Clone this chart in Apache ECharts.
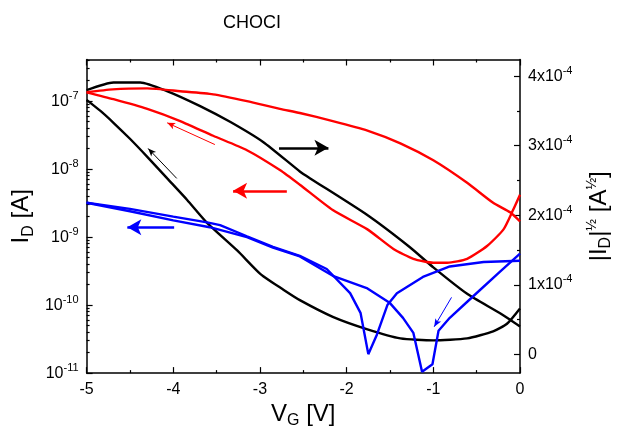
<!DOCTYPE html>
<html>
<head>
<meta charset="utf-8">
<script src="https://cdn.jsdelivr.net/npm/echarts@6/dist/echarts.min.js"></script>
<style>
html,body{margin:0;padding:0;background:#fff;}
#chart{width:624px;height:434px;}
</style>
</head>
<body>
<div id="chart"></div>
<script>
// ---- data (V_G in V, I_D in A, |I_D|^1/2 in A^1/2) ----
var titleText = 'CHOCI';
var xTicks = [-5, -4, -3, -2, -1, 0];
var leftTicks = [1e-11, 1e-10, 1e-9, 1e-8, 1e-7];
var rightTicks = [0, 1e-4, 2e-4, 3e-4, 4e-4];

// black: |I_D|^1/2 (right axis)
var blackAV = [-5.00, -4.69, -4.38, -4.08, -3.69, -3.34, -2.96, -2.54, -2.42, -1.77, -1.27, -1.00, -0.61, -0.23, 0];
var blackAS = [3.80e-4, 3.91e-4, 3.91e-4, 3.79e-4, 3.57e-4, 3.34e-4, 3.05e-4, 2.63e-4, 2.53e-4, 2.01e-4, 1.54e-4, 1.25e-4, 0.87e-4, 0.59e-4, 0.40e-4];
var blackBV = [-5.00, -4.84, -4.69, -4.50, -4.30, -4.07, -3.84, -3.61, -3.26, -2.99, -2.73, -2.54, -2.16, -1.76, -1.38, -1.00, -0.61, -0.31, -0.15, 0];
var blackBS = [3.66e-4, 3.50e-4, 3.33e-4, 3.10e-4, 2.84e-4, 2.53e-4, 2.22e-4, 1.89e-4, 1.49e-4, 1.15e-4, 0.93e-4, 0.78e-4, 0.54e-4, 0.36e-4, 0.23e-4, 0.20e-4, 0.23e-4, 0.33e-4, 0.44e-4, 0.66e-4];

// red: I_D (left axis, log)
var redAV = [-5.00, -4.70, -4.30, -3.92, -3.54, -3.15, -2.77, -2.54, -2.16, -1.76, -1.38, -1.00, -0.61, -0.31, -0.11, 0];
var redAI = [1.35e-7, 1.49e-7, 1.54e-7, 1.40e-7, 1.26e-7, 1.0e-7, 7.7e-8, 6.7e-8, 5.1e-8, 3.7e-8, 2.4e-8, 1.35e-8, 6.3e-9, 3.2e-9, 2.3e-9, 1.7e-9];
var redBV = [-5.00, -4.69, -4.30, -3.92, -3.54, -3.15, -2.77, -2.54, -2.16, -1.76, -1.46, -1.23, -1.00, -0.84, -0.61, -0.38, -0.19, -0.08, 0];
var redBI = [1.35e-7, 1.07e-7, 7.7e-8, 5.1e-8, 3.1e-8, 1.9e-8, 9.7e-9, 5.9e-9, 2.5e-9, 1.3e-9, 6.7e-10, 4.8e-10, 4.2e-10, 4.2e-10, 4.8e-10, 7.4e-10, 1.3e-9, 2.5e-9, 4.2e-9];

// blue: I_D (left axis, log)
var blueAV = [-5.00, -4.50, -4.00, -3.61, -3.46, -3.15, -2.85, -2.54, -2.23, -1.96, -1.84, -1.75, -1.65, -1.53, -1.42, -1.12, -0.81, -0.42, 0];
var blueAI = [3.2e-9, 2.6e-9, 2.0e-9, 1.65e-9, 1.5e-9, 1.03e-9, 7.2e-10, 5.3e-10, 3.4e-10, 1.5e-10, 7.7e-11, 1.9e-11, 3.7e-11, 1.0e-10, 1.5e-10, 2.6e-10, 3.7e-10, 4.3e-10, 4.5e-10];
var blueBV = [-5.00, -4.50, -4.00, -3.58, -3.15, -2.85, -2.54, -2.16, -1.76, -1.50, -1.35, -1.23, -1.13, -1.01, -0.94, -0.81, -0.54, -0.23, 0];
var blueBI = [3.2e-9, 2.4e-9, 1.76e-9, 1.40e-9, 1.0e-9, 7.0e-10, 5.2e-10, 2.7e-10, 1.76e-10, 1.07e-10, 6.5e-11, 3.9e-11, 1.05e-11, 1.35e-11, 4.2e-11, 6.5e-11, 1.35e-10, 3.1e-10, 5.7e-10];

// annotation arrows [x1, y1, x2, y2] in data units
var arrowBlackThick = [-2.78, 2.97e-4, -2.21, 2.97e-4];
var arrowBlackThin = [-3.96, 2.53e-4, -4.29, 2.96e-4];
var arrowRedThick = [-2.69, 4.8e-9, -3.31, 4.8e-9];
var arrowRedThin = [-3.52, 2.3e-8, -4.07, 4.8e-8];
var arrowBlueThick = [-3.99, 1.4e-9, -4.53, 1.4e-9];
var arrowBlueThin = [-0.79, 1.3e-10, -0.99, 4.8e-11];

function zip(a, b) { return a.map(function (v, i) { return [v, b[i]]; }); }
function logMinor() {
  var out = [];
  for (var e = -11; e <= -7; e++) {
    for (var k = 2; k <= 9; k++) {
      var v = k * Math.pow(10, e);
      if (v <= 4.1e-7) out.push(v);
    }
  }
  return out;
}
function arrowLine(a, w, size, color) {
  return {
    silent: true, animation: false,
    symbol: ['none', 'arrow'], symbolSize: size,
    label: { show: false },
    emphasis: { disabled: true },
    lineStyle: { type: 'solid', width: w, color: color },
    itemStyle: { color: color },
    data: [[{ coord: [a[0], a[1]] }, { coord: [a[2], a[3]] }]]
  };
}

var FONT = 'Liberation Sans, Arial, sans-serif';
var LEFT_MIN = 1e-11, LEFT_MAX = 4.1e-7;
var RIGHT_MIN = -0.27e-4, RIGHT_MAX = 4.24e-4;
var lineW = 1.5;
var curveW = 2.4;
var SMOOTH = 0.2;

var chart = echarts.init(document.getElementById('chart'), null, { renderer: 'canvas' });
var option = {
  animation: false,
  backgroundColor: '#fff',
  title: {
    text: titleText, left: 218, top: 9,
    textStyle: { fontFamily: FONT, fontSize: 18, fontWeight: 'normal', color: '#000' }
  },
  grid: { left: 86.6, right: 104, top: 59.5, bottom: 57 },
  xAxis: [
    {
      type: 'value', position: 'bottom', min: -5, max: 0, interval: 1,
      name: '{a|V}{sub|G}{a| [V]}', nameLocation: 'middle', nameGap: 22,
      nameTextStyle: { fontFamily: FONT, color: '#000', rich: {
        a: { fontFamily: FONT, fontSize: 24, color: '#000' },
        sub: { fontFamily: FONT, fontSize: 16, color: '#000', padding: [14, 0, 0, 0] } } },
      axisLine: { onZero: false, lineStyle: { color: '#000', width: lineW } },
      axisTick: { inside: true, length: 6, lineStyle: { color: '#000', width: 1.2 } },
      minorTick: { show: true, splitNumber: 2, length: 3, lineStyle: { color: '#000', width: 1.2 } },
      axisLabel: { fontFamily: FONT, fontSize: 16, color: '#000', margin: 8,
        formatter: function (v) { return String(v); } },
      splitLine: { show: false }
    },
    {
      type: 'value', position: 'top', min: -5, max: 0, interval: 1,
      axisLine: { onZero: false, lineStyle: { color: '#000', width: lineW } },
      axisTick: { inside: true, length: 6, lineStyle: { color: '#000', width: 1.2 } },
      minorTick: { show: true, splitNumber: 2, length: 3, lineStyle: { color: '#000', width: 1.2 } },
      axisLabel: { show: false },
      splitLine: { show: false }
    }
  ],
  yAxis: [
    {
      type: 'log', logBase: 10, position: 'left', min: LEFT_MIN, max: LEFT_MAX,
      name: '{a|I}{sub|D}{a| [A]}', nameLocation: 'middle', nameGap: 50, nameRotate: 90,
      nameMoveOverlap: false,
      nameTextStyle: { fontFamily: FONT, color: '#000', rich: {
        a: { fontFamily: FONT, fontSize: 24, color: '#000' },
        sub: { fontFamily: FONT, fontSize: 16, color: '#000', padding: [14, 0, 0, 0] } } },
      axisLine: { onZero: false, lineStyle: { color: '#000', width: lineW } },
      axisTick: { inside: true, length: 6, customValues: leftTicks, lineStyle: { color: '#000', width: 1.2 } },
      axisLabel: {
        customValues: leftTicks, margin: 8, fontFamily: FONT, color: '#000',
        formatter: function (v) {
          var e = Math.round(Math.log(v) / Math.LN10);
          return '{b|10}{s|' + e + '}';
        },
        rich: {
          b: { fontFamily: FONT, fontSize: 16, color: '#000', lineHeight: 22 },
          s: { fontFamily: FONT, fontSize: 11, color: '#000', verticalAlign: 'top', lineHeight: 22 }
        }
      },
      splitLine: { show: false }
    },
    {
      type: 'value', position: 'right', min: RIGHT_MIN, max: RIGHT_MAX,
      name: '{a||I}{sub|D}{a||}{sup|½}{a| [A}{sup|½}{a|]}', nameLocation: 'middle', nameGap: 64, nameRotate: 90,
      nameTextStyle: { fontFamily: FONT, color: '#000', rich: {
        a: { fontFamily: FONT, fontSize: 24, color: '#000' },
        sub: { fontFamily: FONT, fontSize: 16, color: '#000', padding: [14, 0, 0, 0] },
        sup: { fontFamily: FONT, fontSize: 14, color: '#000', padding: [0, 0, 14, 0] } } },
      axisLine: { onZero: false, lineStyle: { color: '#000', width: lineW } },
      axisTick: { inside: true, length: 6, customValues: rightTicks, lineStyle: { color: '#000', width: 1.2 } },
      axisLabel: {
        customValues: rightTicks, margin: 8, fontFamily: FONT, color: '#000',
        formatter: function (v) {
          var n = Math.round(v / 1e-4);
          if (n === 0) return '{b|0}';
          return '{b|' + n + 'x10}{s|-4}';
        },
        rich: {
          b: { fontFamily: FONT, fontSize: 16, color: '#000', lineHeight: 22 },
          s: { fontFamily: FONT, fontSize: 11, color: '#000', verticalAlign: 'top', lineHeight: 22 }
        }
      },
      splitLine: { show: false }
    },
    {
      type: 'log', logBase: 10, position: 'left', min: LEFT_MIN, max: LEFT_MAX,
      axisLine: { show: false, onZero: false },
      axisTick: { inside: true, length: 3, customValues: logMinor(), lineStyle: { color: '#000', width: 1.2 } },
      axisLabel: { show: false },
      splitLine: { show: false }
    },
    {
      type: 'value', position: 'right', min: RIGHT_MIN, max: RIGHT_MAX,
      axisLine: { show: false, onZero: false },
      axisTick: { inside: true, length: 3, customValues: [0.5e-4, 1.5e-4, 2.5e-4, 3.5e-4], lineStyle: { color: '#000', width: 1.2 } },
      axisLabel: { show: false },
      splitLine: { show: false }
    }
  ],
  series: [
    { type: 'line', name: 'blackA', yAxisIndex: 1, data: zip(blackAV, blackAS), showSymbol: false, smooth: SMOOTH,
      lineStyle: { color: '#000', width: curveW }, itemStyle: { color: '#000' },
      markLine: arrowLine(arrowBlackThick, 2.5, [12, 14], '#000') },
    { type: 'line', name: 'blackB', yAxisIndex: 1, data: zip(blackBV, blackBS), showSymbol: false, smooth: SMOOTH,
      lineStyle: { color: '#000', width: curveW }, itemStyle: { color: '#000' },
      markLine: arrowLine(arrowBlackThin, 1, [5, 8], '#000') },
    { type: 'line', name: 'redA', yAxisIndex: 0, data: zip(redAV, redAI), showSymbol: false, smooth: SMOOTH,
      lineStyle: { color: '#ff0000', width: curveW }, itemStyle: { color: '#ff0000' },
      markLine: arrowLine(arrowRedThick, 2.5, [12, 14], '#ff0000') },
    { type: 'line', name: 'redB', yAxisIndex: 0, data: zip(redBV, redBI), showSymbol: false, smooth: SMOOTH,
      lineStyle: { color: '#ff0000', width: curveW }, itemStyle: { color: '#ff0000' },
      markLine: arrowLine(arrowRedThin, 1, [5, 8], '#ff0000') },
    { type: 'line', name: 'blueA', yAxisIndex: 0, data: zip(blueAV, blueAI), showSymbol: false,
      lineStyle: { color: '#0000ff', width: curveW }, itemStyle: { color: '#0000ff' },
      markLine: arrowLine(arrowBlueThick, 2.5, [12, 14], '#0000ff') },
    { type: 'line', name: 'blueB', yAxisIndex: 0, data: zip(blueBV, blueBI), showSymbol: false,
      lineStyle: { color: '#0000ff', width: curveW }, itemStyle: { color: '#0000ff' },
      markLine: arrowLine(arrowBlueThin, 1, [5, 8], '#0000ff') }
  ]
};
chart.setOption(option);
</script>
</body>
</html>
